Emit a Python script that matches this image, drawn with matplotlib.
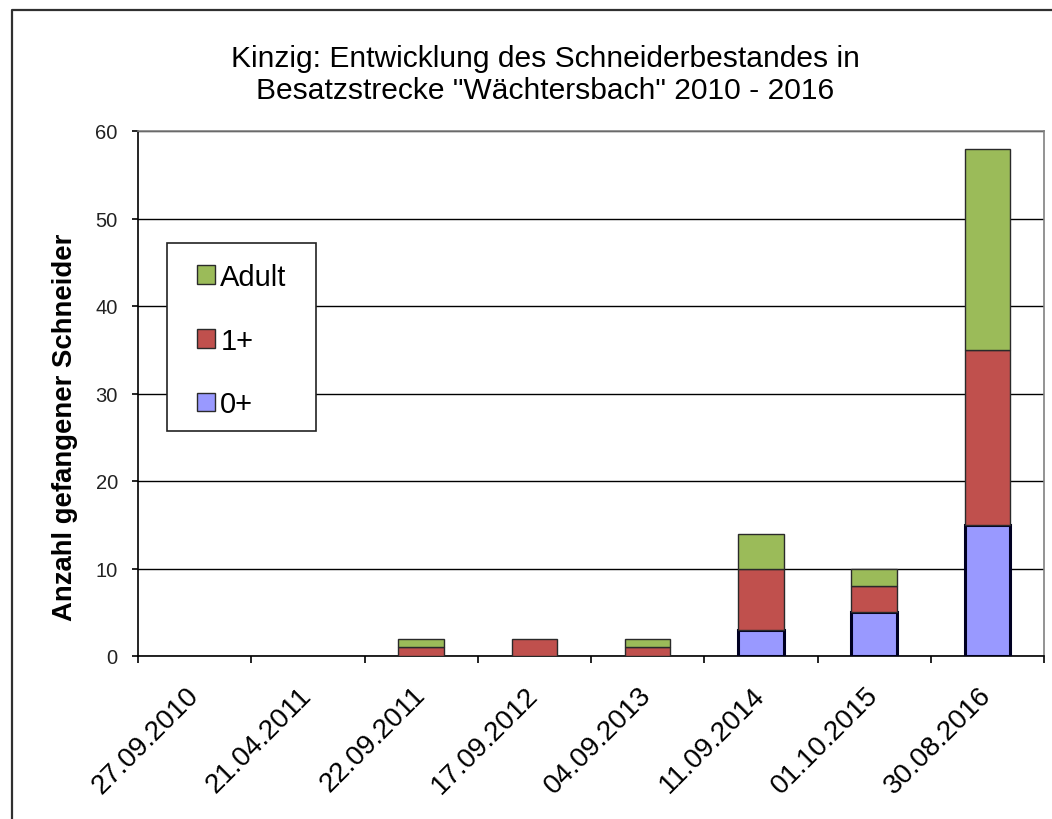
import matplotlib
matplotlib.use("Agg")
import matplotlib.pyplot as plt
from matplotlib.patches import Patch, Rectangle
from matplotlib.lines import Line2D
import numpy as np

plt.rcParams['font.family'] = ['Liberation Sans', 'DejaVu Sans']

# data
dates = ["27.09.2010", "21.04.2011", "22.09.2011", "17.09.2012",
         "04.09.2013", "11.09.2014", "01.10.2015", "30.08.2016"]
juv_0 = [0, 0, 0, 0, 0, 3, 5, 15]      # 0+
juv_1 = [0, 0, 1, 2, 1, 7, 3, 20]      # 1+
adult = [0, 0, 1, 0, 1, 4, 2, 23]      # Adult

c_0 = "#9999FF"
c_1 = "#C0504D"
c_ad = "#9BBB59"

W, H = 1052, 820
fig = plt.figure(figsize=(W / 100, H / 100), dpi=100)
ax = fig.add_axes([138 / W, 1 - 657 / H, (1044 - 138) / W, (657 - 132) / H])

x = np.arange(len(dates))
b0 = np.array(juv_0)
b1 = b0 + np.array(juv_1)

bars0 = ax.bar(x, juv_0, width=0.4, color=c_0, edgecolor="#000022", linewidth=2.2, zorder=3)
bars1 = ax.bar(x, juv_1, width=0.4, bottom=b0, color=c_1, edgecolor="#2a2a2a", linewidth=1, zorder=3)
bars2 = ax.bar(x, adult, width=0.4, bottom=b1, color=c_ad, edgecolor="#2a2a2a", linewidth=1, zorder=3)

# hide empty segments
for bars, vals in ((bars0, juv_0), (bars1, juv_1), (bars2, adult)):
    for p, v in zip(bars, vals):
        if v == 0:
            p.set_visible(False)

ax.set_xlim(-0.5, len(dates) - 0.5)
ax.set_ylim(0, 60)
ax.set_yticks(range(0, 61, 10))
ax.yaxis.grid(True, color="black", linewidth=1)
ax.set_axisbelow(True)

ax.set_xticks(x)
ax.set_xticklabels(dates, fontsize=20, rotation=45, ha="right", va="center",
                   rotation_mode="anchor")
ax.set_xticks(np.arange(len(dates) + 1) - 0.5, minor=True)
ax.tick_params(axis="x", which="major", length=0, pad=25)
ax.tick_params(axis="x", which="minor", length=5, width=1.2, direction="out")
ax.tick_params(axis="y", length=4.5, width=1.2, direction="out", pad=10, labelsize=14.5,
               labelcolor="#222222")

for s in ("top", "right"):
    ax.spines[s].set_color("#808080")
    ax.spines[s].set_linewidth(1.2)
for s in ("left", "bottom"):
    ax.spines[s].set_color("black")
    ax.spines[s].set_linewidth(1.2)

# title and y label
fig.text(545 / W, 1 - 75 / H, 'Kinzig: Entwicklung des Schneiderbestandes in\nBesatzstrecke "Wächtersbach" 2010 - 2016',
         ha="center", va="center", fontsize=21.6, linespacing=1.2)
fig.text(65 / W, 1 - 427 / H, "Anzahl gefangener Schneider", rotation=90,
         ha="center", va="center", fontsize=19.8, fontweight="bold")

# legend with its own box
fig.patches.append(Rectangle((167 / W, 1 - 432 / H), (316 - 167) / W, (432 - 244) / H,
                             transform=fig.transFigure, facecolor="white",
                             edgecolor="#222222", linewidth=1.2, zorder=5))
handles = [Patch(facecolor=c_ad, edgecolor="#2a2a2a", linewidth=1),
           Patch(facecolor=c_1, edgecolor="#2a2a2a", linewidth=1),
           Patch(facecolor=c_0, edgecolor="#2a2a2a", linewidth=1)]
leg = fig.legend(handles, ["Adult", "1+", "0+"], loc="upper left",
                 bbox_to_anchor=(197 / W, 1 - 264 / H), bbox_transform=fig.transFigure,
                 frameon=False, borderpad=0, borderaxespad=0, fontsize=21,
                 handlelength=0.6, handleheight=0.6, handletextpad=0.2, labelspacing=1.22)
leg.set_zorder(6)

# outer chart border
fig.lines.append(Line2D([12 / W, 12 / W, 1], [0, 1 - 11 / H, 1 - 11 / H],
                        transform=fig.transFigure, color="#303030", linewidth=1.6))

fig.savefig("out.png", dpi=100)
